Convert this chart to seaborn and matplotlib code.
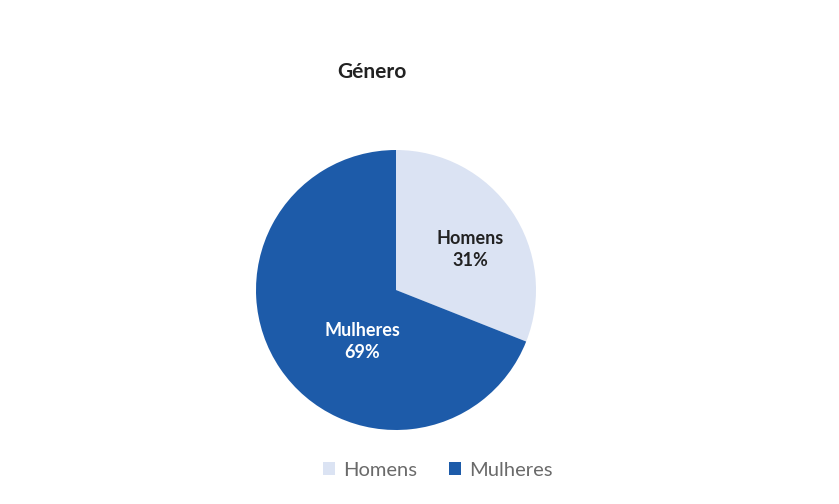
import matplotlib
matplotlib.use("Agg")
import matplotlib.pyplot as plt
import seaborn as sns
from matplotlib.patches import Patch

categories = ["Homens", "Mulheres"]
values = [31, 69]
colors = ["#dbe3f3", "#1d5ba9"]
label_colors = ["#222222", "#ffffff"]
title = "Género"

sns.set_theme(style="white")
plt.rcParams['font.family'] = ['Lato', 'DejaVu Sans']

fig = plt.figure(figsize=(8.39, 5.04), dpi=100)
fig.patch.set_facecolor("white")

cx, cy, r = 396, 290, 140
W, H = 839, 504
ax = fig.add_axes([(cx - r) / W, (H - cy - r) / H, 2 * r / W, 2 * r / H])
wedges, texts = ax.pie(values, colors=colors, startangle=90, counterclock=False,
                       radius=1, wedgeprops=dict(linewidth=0))
ax.set_xlim(-1, 1)
ax.set_ylim(-1, 1)
ax.set_aspect("equal")
ax.axis("off")

label_pos = [(0.53, 0.29), (-0.24, -0.37)]
for cat, v, c, pos in zip(categories, values, label_colors, label_pos):
    ax.text(pos[0], pos[1], f"{cat}\n{v}%", ha="center", va="center",
            color=c, fontsize=13, fontweight="bold", linespacing=1.35)

fig.text(372 / W, 1 - 72 / H, title, ha="center", va="center",
         fontsize=15, fontweight="bold", color="#222222")

handles = [Patch(facecolor=c, edgecolor="none") for c in colors]
leg = fig.legend(handles, categories, loc="center", bbox_to_anchor=(438 / W, 1 - 470 / H),
                 ncol=2, frameon=False, fontsize=14.5, handlelength=0.6, handleheight=0.6,
                 handletextpad=0.4, columnspacing=1.6)
for t in leg.get_texts():
    t.set_color("#6a6a6a")

fig.savefig("out.png", dpi=100, facecolor="white")
